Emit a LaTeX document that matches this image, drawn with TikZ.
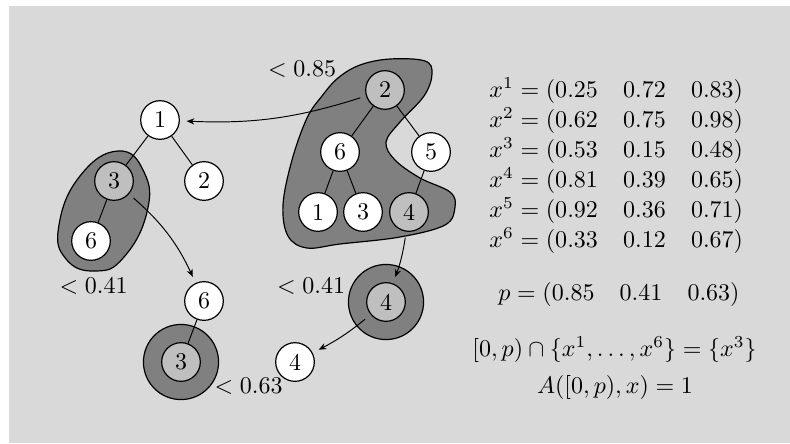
\documentclass[tikz,border=0pt]{standalone}
\usetikzlibrary{arrows.meta}
\begin{document}
\begin{tikzpicture}[x=0.4167pt,y=-0.4167pt,
  vnode/.style={circle,draw,line width=0.5pt,minimum size=16.1pt,inner sep=0pt,fill=white},
  gnode/.style={vnode,fill=black!25},
  ring/.style={circle,draw,line width=0.5pt,minimum size=31.3pt,inner sep=0pt,fill=black!50},
  blob/.style={draw,line width=0.5pt,fill=black!50},
  edge/.style={line width=0.4pt},
  arr/.style={-{Stealth[length=3.2pt,width=2.6pt,inset=1pt]},line width=0.4pt,shorten >=2.8pt,shorten <=2.5pt},
  lbl/.style={anchor=base,inner sep=0pt}]
\useasboundingbox (0,0) rectangle (790,443);
\fill[black!15] (9,6) rectangle (790,443);
% blobs
\draw[blob] plot[smooth cycle,tension=0.8] coordinates {(118,151) (144,172) (147,212) (124,257) (96,271) (66,259) (59,225) (80,176)};
\draw[blob] plot[smooth cycle,tension=0.6] coordinates {(360,65) (390,59) (425,61) (432,74) (424,96) (400,122) (386,142) (395,160) (420,178) (450,192) (455,207) (445,225) (400,237) (340,244) (307,248) (288,236) (283,205) (292,160) (307,118) (322,96) (338,78)};
\node[ring] (r3) at (181,362) {};
\node[ring] (r4) at (386,302) {};
% left tree
\node[vnode] (a1) at (160,120) {1};
\node[gnode] (a3) at (114,181) {3};
\node[vnode] (a2) at (204,181) {2};
\node[vnode] (a6) at (91,241) {6};
\draw[edge] (a1) -- (a3) (a1) -- (a2) (a3) -- (a6);
% middle
\node[vnode] (m6) at (204,301) {6};
\node[gnode] (m3) at (181,362) {3};
\draw[edge] (m6) -- (m3);
% right tree
\node[gnode] (b2) at (385,90) {2};
\node[vnode] (b6) at (340,152) {6};
\node[vnode] (b5) at (431,152) {5};
\node[vnode] (b1) at (318,212) {1};
\node[vnode] (b3) at (363,212) {3};
\node[gnode] (b4) at (409,212) {4};
\draw[edge] (b2) -- (b6) (b2) -- (b5) (b6) -- (b1) (b6) -- (b3) (b5) -- (b4);
\node[gnode] (c4) at (386,302) {4};
\node[vnode] (w4) at (295,362) {4};
% arrows
\draw[arr] (b2) to[bend left=10] (a1);
\draw[arr] (a3) to[bend left=12] (m6);
\draw[arr] (b4) to[bend left=6] (c4);
\draw[arr,shorten <=3pt] (c4) to[bend left=6] (w4);
% labels
\node[lbl] (l85) at (302,76) {$<0.85$};
\node[lbl] (l41a) at (93.5,293.5) {$<0.41$};
\node[lbl] (l41b) at (311,293.5) {$<0.41$};
\node[lbl] (l63) at (248.5,393) {$<0.63$};
% right text
\node[anchor=base west,inner sep=0pt] (x1) at (489,97.5) {$x^1=(0.25\hspace{10.5pt}0.72\hspace{10.5pt}0.83)$};
\node[anchor=base west,inner sep=0pt] (x2) at (489,127.5) {$x^2=(0.62\hspace{10.5pt}0.75\hspace{10.5pt}0.98)$};
\node[anchor=base west,inner sep=0pt] (x3) at (489,157.5) {$x^3=(0.53\hspace{10.5pt}0.15\hspace{10.5pt}0.48)$};
\node[anchor=base west,inner sep=0pt] (x4) at (489,187.5) {$x^4=(0.81\hspace{10.5pt}0.39\hspace{10.5pt}0.65)$};
\node[anchor=base west,inner sep=0pt] (x5) at (489,217.5) {$x^5=(0.92\hspace{10.5pt}0.36\hspace{10.5pt}0.71)$};
\node[anchor=base west,inner sep=0pt] (x6) at (489,247.5) {$x^6=(0.33\hspace{10.5pt}0.12\hspace{10.5pt}0.67)$};
\node[lbl] (pp) at (619,300) {$p=(0.85\hspace{10.5pt}0.41\hspace{10.5pt}0.63)$};
\node[lbl] (cap) at (614.5,356) {$[0,p)\cap\{x^1,\ldots,x^6\}=\{x^3\}$};
\node[lbl] (aa) at (615,393) {$A([0,p),x)=1$};
\end{tikzpicture}
\end{document}
